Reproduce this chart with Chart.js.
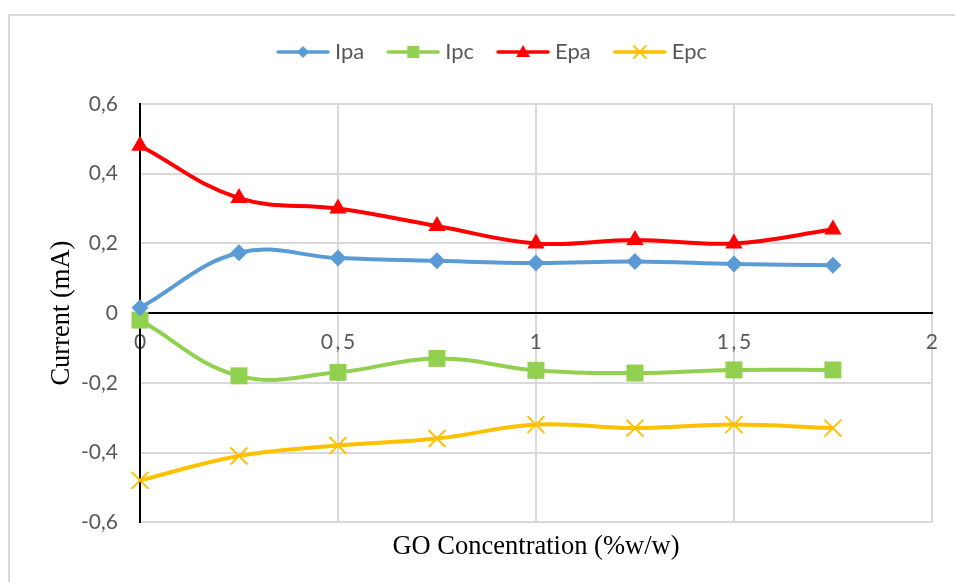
<!DOCTYPE html>
<html>
<head>
<meta charset="utf-8">
<script src="https://cdn.jsdelivr.net/npm/chart.js@4/dist/chart.umd.min.js"></script>
<style>
  html, body { margin: 0; padding: 0; background: #fff; overflow: hidden; }
  #frame { position: absolute; left: 8px; top: 14px; width: 2000px; height: 2000px;
           border-left: 2px solid #d9d9d9; border-top: 2px solid #d9d9d9; box-sizing: border-box; }
  #wrap { position: absolute; left: 0; top: 0; width: 955px; height: 582px; }
</style>
</head>
<body>
<div id="frame"></div>
<div id="wrap"><canvas id="chart" width="955" height="582"></canvas></div>
<script>
// GO concentration (%w/w)
const concentrations = [0, 0.25, 0.5, 0.75, 1, 1.25, 1.5, 1.75];
// Currents (mA)
const ipa = [0.015, 0.173, 0.158, 0.150, 0.144, 0.148, 0.141, 0.137];
const ipc = [-0.02, -0.18, -0.17, -0.13, -0.164, -0.172, -0.163, -0.163];
const epa = [0.48, 0.33, 0.30, 0.25, 0.20, 0.21, 0.20, 0.24];
const epc = [-0.48, -0.41, -0.38, -0.36, -0.32, -0.33, -0.32, -0.33];
const seriesNames = ['Ipa', 'Ipc', 'Epa', 'Epc'];

const colors = ['#5B9BD5', '#92D050', '#FF0000', '#FFC000'];
const styles = ['rectRot', 'rect', 'triangle', 'crossRot'];
const radii = [8.5, 12, 10, 12];

const LAYOUT_TOP = 13;
const PLOT_TOP = 104;
const LEGEND_SHIFT = 18;

const comma = v => {
  const r = Math.round(v * 10) / 10;
  return String(r).replace('.', ',');
};

// legend icon: a short line with the marker in its middle
function legendIcon(color, style) {
  const c = document.createElement('canvas');
  c.width = 54; c.height = 16;
  const g = c.getContext('2d');
  g.strokeStyle = color; g.lineWidth = 3.5; g.lineCap = 'round';
  g.beginPath(); g.moveTo(2, 8); g.lineTo(52, 8); g.stroke();
  g.fillStyle = color;
  const cx = 27, cy = 8;
  g.beginPath();
  if (style === 'rectRot') {
    g.moveTo(cx - 6, cy); g.lineTo(cx, cy - 6); g.lineTo(cx + 6, cy); g.lineTo(cx, cy + 6); g.closePath(); g.fill();
  } else if (style === 'rect') {
    g.rect(cx - 6, cy - 6, 12, 12); g.fill();
  } else if (style === 'triangle') {
    g.moveTo(cx, cy - 7); g.lineTo(cx + 7, cy + 5); g.lineTo(cx - 7, cy + 5); g.closePath(); g.fill();
  } else {
    g.lineWidth = 1.8;
    g.moveTo(cx - 6, cy - 6); g.lineTo(cx + 6, cy + 6);
    g.moveTo(cx + 6, cy - 6); g.lineTo(cx - 6, cy + 6); g.stroke();
  }
  return c;
}

const values = [ipa, ipc, epa, epc];
const datasets = values.map((vals, i) => ({
  label: seriesNames[i],
  data: concentrations.map((x, j) => ({ x: x, y: vals[j] })),
  borderColor: colors[i],
  backgroundColor: colors[i],
  borderWidth: 4,
  tension: 0.4,
  pointStyle: styles[i],
  pointRadius: radii[i],
  pointHoverRadius: radii[i],
  pointBorderWidth: styles[i] === 'crossRot' ? 2 : 0,
  pointBorderColor: colors[i],
  pointBackgroundColor: colors[i],
  clip: false
}));
const icons = colors.map((c, i) => legendIcon(c, styles[i]));

// fixed gap between the legend and the plot area, legend nudged right
const legendGap = {
  id: 'legendGap',
  beforeInit(chart) {
    const legend = chart.legend;
    const fit = legend.fit;
    legend.fit = function () {
      fit.call(this);
      this.height = PLOT_TOP - LAYOUT_TOP;
    };
  },
  afterLayout(chart) {
    chart.legend.left += LEGEND_SHIFT;
    chart.legend.right += LEGEND_SHIFT;
  }
};

new Chart(document.getElementById('chart'), {
  type: 'line',
  data: { datasets: datasets },
  plugins: [legendGap],
  options: {
    responsive: false,
    animation: false,
    layout: { padding: { left: 20, right: 22, top: LAYOUT_TOP, bottom: 11 } },
    plugins: {
      tooltip: { enabled: false },
      legend: {
        position: 'top',
        labels: {
          usePointStyle: true,
          pointStyleWidth: 42,
          padding: 28,
          color: '#595959',
          font: { family: 'Lato', size: 22 },
          generateLabels: chart => chart.data.datasets.map((d, i) => ({
            text: d.label,
            pointStyle: icons[i],
            fillStyle: d.borderColor,
            strokeStyle: d.borderColor,
            lineWidth: 0,
            fontColor: '#595959',
            datasetIndex: i
          }))
        }
      },
      title: {
        display: true,
        position: 'bottom',
        fullSize: false,
        text: 'GO Concentration (%w/w)',
        color: '#000',
        font: { family: 'Liberation Serif', size: 26.5, weight: 'normal' },
        padding: { top: 9, bottom: 8 }
      }
    },
    scales: {
      x: {
        type: 'linear',
        position: { y: 0 },
        min: 0, max: 2,
        afterFit: s => { s.height = 0; },
        ticks: {
          stepSize: 0.5,
          padding: 17,
          color: '#595959',
          font: { family: 'Lato', size: 21 },
          maxRotation: 0,
          callback: v => comma(v).replace(',', '\u2009,\u2009')
        },
        grid: {
          drawTicks: false,
          color: c => (c.tick && c.tick.value === 0) ? 'rgba(0,0,0,0)' : '#d9d9d9',
          lineWidth: 2
        },
        border: { color: '#000', width: 2 }
      },
      y: {
        type: 'linear',
        min: -0.6, max: 0.6,
        afterFit: s => { s.width = 120; },
        ticks: {
          stepSize: 0.2,
          padding: 22,
          color: '#595959',
          font: { family: 'Lato', size: 21 },
          callback: v => comma(v)
        },
        grid: {
          drawTicks: false,
          color: c => (c.tick && Math.abs(c.tick.value) < 1e-9) ? 'rgba(0,0,0,0)' : '#d9d9d9',
          lineWidth: 2
        },
        border: { color: '#000', width: 2 },
        title: {
          display: true,
          text: 'Current (mA)',
          color: '#000',
          font: { family: 'Liberation Serif', size: 26.5, weight: 'normal' },
          padding: { top: 26, bottom: 0 }
        }
      }
    }
  }
});
</script>
</body>
</html>
